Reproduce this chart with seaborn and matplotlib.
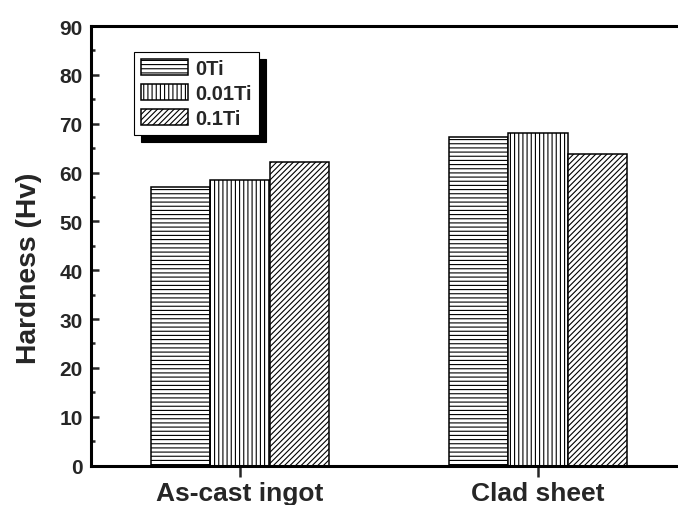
import numpy as np
import pandas as pd
import matplotlib
matplotlib.use("Agg")
import matplotlib.pyplot as plt
import seaborn as sns

# data
conditions = ["As-cast ingot", "Clad sheet"]
alloys = ["0Ti", "0.01Ti", "0.1Ti"]
hard_0ti = [57.0, 67.2]
hard_001ti = [58.5, 68.0]
hard_01ti = [62.2, 63.9]

df = pd.DataFrame({
    "condition": conditions * 3,
    "alloy": [a for a in alloys for _ in conditions],
    "hardness": hard_0ti + hard_001ti + hard_01ti,
})

sns.set_style("ticks")
plt.rcParams["font.family"] = ["Liberation Sans", "DejaVu Sans"]
plt.rcParams["font.weight"] = "bold"
plt.rcParams["hatch.linewidth"] = 0.8

fig = plt.figure(figsize=(6.78, 5.06), dpi=100)
ax = fig.add_axes([0.1342, 0.078, 0.879, 0.8685])

sns.barplot(data=df, x="condition", y="hardness", hue="alloy",
            order=conditions, hue_order=alloys, width=0.6,
            color="white", edgecolor="black", linewidth=1.1,
            errorbar=None, legend=False, ax=ax)

hatches = ["----", "||||", "//////"]
for cont, h, lab in zip(ax.containers, hatches, alloys):
    for bar in cont:
        bar.set_facecolor("white")
        bar.set_edgecolor("black")
        bar.set_hatch(h)
    cont.set_label(lab)

ax.set_xlim(-0.5, 1.5)
ax.set_ylim(0, 90)
ax.set_yticks(np.arange(0, 91, 10))
ax.set_yticks(np.arange(5, 90, 10), minor=True)
ax.set_xlabel("")
ax.set_ylabel("Hardness (Hv)", fontsize=20.3, fontweight="bold")
ax.yaxis.set_label_coords(-0.082, 0.452)

for s in ax.spines.values():
    s.set_linewidth(2.2)
    s.set_color("black")

ax.tick_params(axis="y", which="major", direction="in", length=6, width=1.8,
               labelsize=15, pad=6)
ax.tick_params(axis="y", which="minor", direction="in", length=3, width=1.8)
ax.tick_params(axis="x", which="major", direction="out", length=8, width=1.8,
               labelsize=19, pad=3)
for t in ax.get_xticklabels() + ax.get_yticklabels():
    t.set_fontweight("bold")

leg = ax.legend(handles=ax.containers, labels=alloys, loc="upper left",
                bbox_to_anchor=(0.072, 0.941), borderaxespad=0,
                fontsize=14.5, frameon=True, fancybox=False,
                shadow={"color": "black", "alpha": 1, "ox": 5, "oy": -5},
                handlelength=2.35, handleheight=0.85, handletextpad=0.35,
                labelspacing=0.3, borderpad=0.35)
leg.get_frame().set_edgecolor("black")
leg.get_frame().set_linewidth(0.8)
leg.get_frame().set_alpha(1)
for t in leg.get_texts():
    t.set_fontweight("bold")

fig.savefig("out.png", dpi=100)
